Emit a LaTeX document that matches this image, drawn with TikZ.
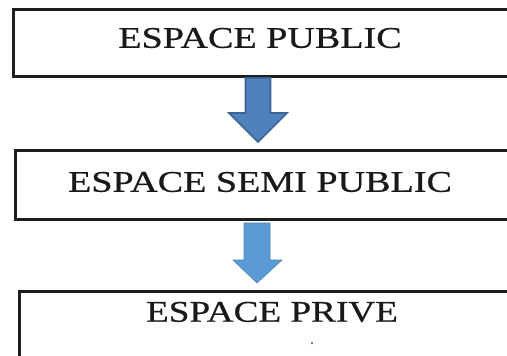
\documentclass[tikz,border=0pt]{standalone}
\usepackage{fontspec}
\usepackage{graphicx}
\setmainfont{Liberation Serif}[FakeBold=0.6]
\definecolor{arrowdark}{HTML}{4F81BD}
\definecolor{arrowedge}{HTML}{3A6396}
\definecolor{arrowlight}{HTML}{5B9BD5}
\definecolor{boxline}{HTML}{1E1E1E}
\tikzset{
  box/.style={draw=boxline, line width=2.6pt, fill=white, rectangle, anchor=north west, inner sep=0pt},
  lbl/.style={font=\fontsize{30}{36}\selectfont, text=black!90, inner sep=0pt},
  bigarrowA/.style={fill=arrowdark, draw=arrowedge, line width=1.6pt, line join=miter},
  bigarrowB/.style={fill=arrowlight, draw=arrowlight!85!black, line width=0.6pt, line join=miter}
}
\begin{document}
\begin{tikzpicture}[x=1pt,y=-1pt]
\useasboundingbox (0,0) rectangle (507,356);
\clip (0,0) rectangle (507,356);
\fill[white] (0,0) rectangle (507,356);
% boxes
\node[box, minimum width=520pt, minimum height=67pt] (b1) at (12,8) {};
\node[box, minimum width=520pt, minimum height=69pt] (b2) at (14,149) {};
\node[box, minimum width=520pt, minimum height=90pt] (b3) at (18,290) {};
% labels
\node[lbl] (t1) at (260,38) {\scalebox{1.27}[1]{ESPACE PUBLIC}};
\node[lbl] (t2) at (260,182) {\scalebox{1.27}[1]{ESPACE SEMI PUBLIC}};
\node[lbl] (t3) at (272,312) {\scalebox{1.24}[1]{ESPACE PRIVE}};
% arrows
\coordinate (a1tip) at (258,142);
\coordinate (a2tip) at (257,283);
\draw[bigarrowA] (245.5,78) -- (270.5,78) -- (270.5,113) -- (287,113) -- (a1tip) -- (229,113) -- (245.5,113) -- cycle;
\draw[bigarrowB] (244,223) -- (270,223) -- (270,260) -- (282,260) -- (a2tip) -- (233,260) -- (244,260) -- cycle;
% stray dot
\fill[black!70] (312,343) circle (1.1pt);
\end{tikzpicture}
\end{document}
